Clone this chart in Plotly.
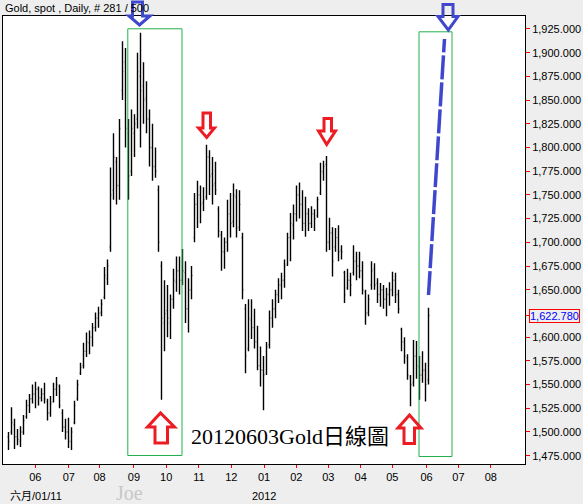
import plotly.graph_objects as go

# ---------------- data ----------------
highs = [1500, 1526, 1514, 1503, 1506, 1518, 1534, 1540, 1550, 1553,
         1548, 1546, 1552, 1535, 1538, 1552, 1558, 1550, 1524, 1514,
         1515, 1505, 1533, 1555, 1573, 1594, 1605, 1607, 1615, 1626,
         1632, 1640, 1674, 1682, 1779, 1815, 1790, 1830, 1912, 1905,
         1830, 1840, 1835, 1900, 1921, 1890, 1870, 1840, 1825, 1800,
         1760, 1680, 1660, 1655, 1645, 1672, 1685, 1685, 1693, 1680,
         1662, 1675, 1752, 1765, 1760, 1758, 1803, 1797, 1790, 1785,
         1738, 1712, 1705, 1745, 1752, 1762, 1756, 1755, 1710, 1635,
         1640, 1640, 1630, 1612, 1590, 1580, 1595, 1628, 1640, 1650,
         1662, 1668, 1682, 1710, 1731, 1740, 1760, 1763, 1755, 1748,
         1736, 1738, 1735, 1748, 1784, 1786, 1791, 1726, 1716, 1715,
         1718, 1697, 1670, 1672, 1668, 1697, 1690, 1690, 1680, 1650,
         1645, 1680, 1678, 1662, 1657, 1655, 1652, 1658, 1669, 1668,
         1650, 1610, 1600, 1582, 1560, 1597, 1596, 1580, 1585, 1573,
         1631]
lows = [1481, 1497, 1482, 1486, 1484, 1497, 1514, 1520, 1530, 1525,
        1528, 1532, 1530, 1512, 1516, 1531, 1538, 1525, 1500, 1492,
        1483, 1481, 1508, 1533, 1560, 1567, 1579, 1582, 1590, 1606,
        1610, 1622, 1640, 1655, 1690, 1745, 1740, 1745, 1850, 1800,
        1745, 1770, 1790, 1820, 1800, 1825, 1815, 1780, 1765, 1768,
        1690, 1534, 1585, 1600, 1598, 1630, 1648, 1645, 1655, 1615,
        1605, 1640, 1700, 1715, 1720, 1733, 1745, 1750, 1740, 1750,
        1705, 1670, 1672, 1690, 1705, 1716, 1705, 1712, 1640, 1562,
        1585, 1598, 1588, 1565, 1548, 1523, 1560, 1588, 1610, 1620,
        1636, 1640, 1652, 1675, 1680, 1703, 1722, 1725, 1712, 1706,
        1712, 1715, 1712, 1726, 1750, 1765, 1690, 1692, 1664, 1690,
        1680, 1682, 1636, 1650, 1643, 1665, 1660, 1662, 1645, 1613,
        1622, 1650, 1650, 1636, 1632, 1630, 1622, 1633, 1643, 1636,
        1625, 1585, 1572, 1555, 1527, 1548, 1556, 1534, 1552, 1532,
        1550]
opens = [1495, 1500, 1508, 1495, 1490, 1500, 1516, 1528, 1535, 1540,
         1545, 1536, 1540, 1532, 1520, 1532, 1545, 1548, 1520, 1505,
         1500, 1490, 1510, 1535, 1562, 1570, 1585, 1594, 1600, 1610,
         1620, 1626, 1642, 1662, 1695, 1755, 1785, 1760, 1860, 1890,
         1815, 1775, 1815, 1830, 1875, 1865, 1852, 1830, 1800, 1780,
         1755, 1675, 1615, 1628, 1615, 1640, 1658, 1670, 1660, 1668,
         1630, 1650, 1705, 1740, 1750, 1742, 1748, 1790, 1772, 1762,
         1735, 1708, 1690, 1700, 1730, 1722, 1748, 1716, 1705, 1630,
         1588, 1618, 1610, 1595, 1570, 1565, 1562, 1592, 1620, 1630,
         1645, 1655, 1660, 1677, 1705, 1718, 1730, 1750, 1740, 1720,
         1730, 1720, 1730, 1728, 1752, 1774, 1782, 1700, 1710, 1695,
         1705, 1692, 1668, 1652, 1660, 1668, 1680, 1675, 1670, 1648,
         1626, 1655, 1672, 1657, 1645, 1650, 1640, 1645, 1650, 1660,
         1645, 1608, 1595, 1578, 1558, 1552, 1580, 1568, 1560, 1565,
         1555]
closes = [1490, 1510, 1495, 1492, 1500, 1512, 1528, 1535, 1540, 1545,
          1536, 1540, 1535, 1520, 1530, 1545, 1550, 1528, 1505, 1500,
          1490, 1500, 1528, 1550, 1568, 1585, 1595, 1600, 1610, 1620,
          1625, 1635, 1665, 1675, 1750, 1790, 1760, 1820, 1880, 1820,
          1770, 1820, 1825, 1880, 1860, 1850, 1830, 1800, 1780, 1775,
          1700, 1620, 1625, 1620, 1640, 1660, 1670, 1660, 1670, 1630,
          1650, 1665, 1740, 1750, 1740, 1745, 1790, 1770, 1760, 1755,
          1712, 1690, 1700, 1730, 1720, 1750, 1715, 1740, 1650, 1580,
          1620, 1610, 1595, 1570, 1565, 1560, 1590, 1620, 1630, 1645,
          1655, 1660, 1675, 1705, 1720, 1730, 1750, 1740, 1720, 1730,
          1720, 1730, 1725, 1745, 1775, 1780, 1700, 1710, 1680, 1705,
          1690, 1690, 1645, 1660, 1655, 1680, 1675, 1670, 1650, 1625,
          1640, 1670, 1655, 1645, 1650, 1640, 1645, 1650, 1660, 1645,
          1630, 1595, 1580, 1560, 1550, 1580, 1570, 1560, 1565, 1550,
          1622.78]
last_price = 1622.78

month_labels = ["06", "07", "08", "09", "10", "11", "12", "01",
                "02", "03", "04", "05", "06", "07", "08"]
month_tick_px = [35.3, 68.8, 99.6, 133.9, 166.2, 198.9, 231.3, 264,
                 296.3, 328.3, 360.7, 392.3, 426.5, 458.4, 490.8]
price_ticks = [1475 + 25 * k for k in range(19)]

# ---------------- geometry ----------------
W, H = 583, 504
PL, PR, PT, PB = 3, 525, 16, 464      # plot area in pixels
X0, DX = 8.5, 3.0                      # pixel of first bar, bar spacing
Y_TOP, Y_BOT = 1938.7, 1466.2

def px(xp):
    return (xp - PL) / (PR - PL)

def py(yp):
    return (PB - yp) / (PB - PT)

x = list(range(len(highs)))
x_range = [(PL - X0) / DX, (PR - X0) / DX]
x_tickvals = [(p - X0) / DX for p in month_tick_px]

y_tickvals, y_ticktext = [], []
for v in price_ticks:
    if v == 1625:
        y_tickvals.append(last_price)
        y_ticktext.append("")
    else:
        y_tickvals.append(v)
        y_ticktext.append(f"{v:,.3f}")

RED = "#ED1C24"
BLUE = "#3F48CC"
GREEN = "#22B14C"

def arrow_path(tipx, tipy, sl, sr, end, head_y, hl, hr):
    pts = [(sl, end), (sr, end), (sr, head_y), (hr, head_y), (tipx, tipy),
           (hl, head_y), (sl, head_y)]
    return "M " + " L ".join(f"{px(a):.5f},{py(b):.5f}" for a, b in pts) + " Z"

fig = go.Figure()
fig.add_trace(go.Ohlc(
    x=x, open=opens, high=highs, low=lows, close=closes,
    increasing=dict(line=dict(color="black", width=1.4)),
    decreasing=dict(line=dict(color="black", width=1.4)),
    tickwidth=0.3, hoverinfo="skip", showlegend=False,
))

shapes = []
shapes.append(dict(type="rect", xref="paper", yref="paper",
                   x0=px(127.8), x1=px(182.0), y0=py(455.5), y1=py(28.8),
                   line=dict(color=GREEN, width=1)))
shapes.append(dict(type="rect", xref="paper", yref="paper",
                   x0=px(419.0), x1=px(452.0), y0=py(456.5), y1=py(31.8),
                   line=dict(color=GREEN, width=1)))
shapes.append(dict(type="line", xref="paper", yref="paper",
                   x0=px(428.5), y0=py(295), x1=px(444.5), y1=py(39),
                   line=dict(color=BLUE, width=3.5, dash="24px,3px")))

def add_arrow(path, color):
    shapes.append(dict(type="path", xref="paper", yref="paper", path=path,
                       line=dict(color=color, width=3), fillcolor="rgba(0,0,0,0)"))

add_arrow(arrow_path(139.5, 25, 132.5, 142.5, 2, 16, 129, 150), BLUE)
add_arrow(arrow_path(448.3, 30, 443, 453, 4.5, 16.5, 438, 458), BLUE)
add_arrow(arrow_path(206.7, 137.5, 203, 210.5, 113, 128, 198.5, 214.5), RED)
add_arrow(arrow_path(326.7, 144.5, 324, 331.5, 118.5, 131, 318.5, 335.5), RED)
add_arrow(arrow_path(160.5, 413, 155, 167.5, 443, 427, 147.5, 174.5), RED)
add_arrow(arrow_path(409.5, 415, 404, 414.5, 443.5, 428, 398, 421), RED)

SANS = "Liberation Sans, Arial, Noto Sans CJK TC"
SERIF = "Liberation Serif, Times New Roman, Noto Sans CJK TC"

annotations = [
    dict(text="Gold, spot , Daily, # 281 / 500", xref="paper", yref="paper",
         x=px(3), y=py(7.5), xanchor="left", yanchor="middle", showarrow=False,
         font=dict(family=SANS, size=11, color="black")),
    dict(text="六月/01/11", xref="paper", yref="paper",
         x=px(8), y=py(496), xanchor="left", yanchor="middle", showarrow=False,
         font=dict(family=SANS, size=11, color="black")),
    dict(text="2012", xref="paper", yref="paper",
         x=px(264), y=py(496), xanchor="center", yanchor="middle", showarrow=False,
         font=dict(family=SANS, size=11, color="black")),
    dict(text="Joe", xref="paper", yref="paper",
         x=px(129), y=py(493), xanchor="center", yanchor="middle", showarrow=False,
         font=dict(family=SERIF, size=20, color="#C8C8C8")),
    dict(text="20120603Gold日線圖", xref="paper", yref="paper",
         x=px(189), y=py(436), xanchor="left", yanchor="middle", showarrow=False,
         font=dict(family=SERIF, size=22, color="black")),
    dict(text=f"{last_price:,.3f}", xref="paper", yref="y",
         x=px(554.5), y=last_price, xanchor="center", yanchor="middle",
         showarrow=False, bordercolor="#FF0000", borderwidth=1, borderpad=0,
         font=dict(family=SANS, size=11, color="#0000FF")),
]

fig.update_layout(
    width=W, height=H,
    margin=dict(l=PL, r=W - PR, t=PT, b=H - PB, pad=0, autoexpand=False),
    paper_bgcolor="#EEEEEE", plot_bgcolor="white",
    showlegend=False,
    shapes=shapes, annotations=annotations,
    xaxis=dict(range=x_range, showgrid=False, zeroline=False,
               showline=True, mirror=True, linecolor="black", linewidth=1,
               ticks="outside", tickcolor="red", ticklen=3, tickwidth=1,
               tickvals=x_tickvals, ticktext=month_labels,
               tickfont=dict(family=SANS, size=11, color="black"),
               rangeslider=dict(visible=False), fixedrange=True, automargin=False),
    yaxis=dict(range=[Y_BOT, Y_TOP], side="right", showgrid=False, zeroline=False,
               showline=True, mirror=True, linecolor="black", linewidth=1,
               ticks="outside", tickcolor="red", ticklen=4, tickwidth=1,
               tickvals=y_tickvals, ticktext=y_ticktext,
               tickfont=dict(family=SANS, size=11, color="black"),
               fixedrange=True, automargin=False),
)

fig.write_html("out.html", config={"displayModeBar": False},
               post_script="document.body.style.margin='0';document.body.style.overflow='hidden';")
